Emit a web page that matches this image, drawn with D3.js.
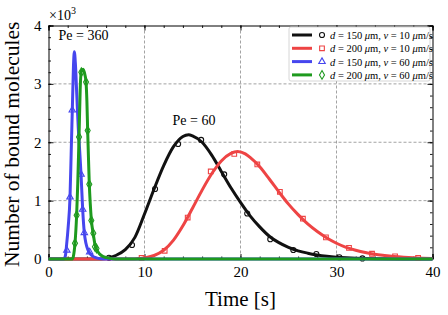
<!DOCTYPE html>
<html>
<head>
<meta charset="utf-8">
<script src="https://cdnjs.cloudflare.com/ajax/libs/d3/7.8.5/d3.min.js"></script>
<style>
	body { margin: 0; background: #fff; }
	svg { display: block; font-family: 'Liberation Serif', 'DejaVu Serif', serif; }
	.axis path { stroke: #000; stroke-width: 1; }
	.axis line { stroke: #000; stroke-width: 0.9; }
	.axis text { font-size: 15px; fill: #000; font-family: 'Liberation Serif', serif; }
	.grid line { stroke: #999; stroke-width: 0.9; stroke-dasharray: 3,2; }
</style>
</head>
<body>
<div id="chart"></div>
<script>
// values in units of 10^3 molecules, time in seconds
var black = [[0,0],[5,0],[6,0.01],[7,0.06],[8,0.16],[9,0.37],[10,0.77],[11,1.2],[12,1.6],[13,1.92],[14,2.1],[14.6,2.13],[15,2.11],[16,2.0],[17,1.78],[18,1.5],[19,1.22],[20,0.97],[21,0.74],[22,0.55],[23,0.39],[24,0.28],[25,0.2],[26,0.14],[27,0.1],[28,0.07],[29,0.048],[30,0.032],[31,0.021],[32,0.013],[34,0.005],[37,0.001],[40,0]];
var blackPts = [[6.3,0.02],[8.7,0.24],[11.1,1.2],[13.5,1.97],[15.9,2.04],[18.3,1.45],[20.7,0.78],[23.1,0.34],[25.5,0.155],[27.9,0.085],[30.3,0.03],[32.7,0.01]];

var red = [[0,0],[9,0],[10,0.02],[11,0.06],[12,0.15],[13,0.32],[14,0.57],[15,0.87],[16,1.18],[17,1.46],[18,1.68],[19,1.81],[19.7,1.84],[20.5,1.8],[21,1.74],[22,1.58],[23,1.37],[24,1.15],[25,0.94],[26,0.76],[27,0.6],[28,0.47],[29,0.36],[30,0.27],[31,0.2],[32,0.15],[33,0.11],[34,0.08],[35,0.06],[36,0.043],[37,0.03],[38,0.02],[39,0.013],[40,0.008]];
var redPts = [[9.7,0.02],[12.1,0.14],[14.5,0.71],[16.9,1.5],[19.35,1.8],[21.75,1.62],[24.1,1.15],[26.5,0.69],[28.9,0.37],[31.3,0.19],[33.7,0.09],[36.1,0.045],[38.5,0.02]];

var blue = [[0,0],[1.6,0],[1.75,0.05],[1.89,0.25],[2.05,0.55],[2.24,1.06],[2.36,1.8],[2.48,2.55],[2.6,3.3],[2.69,3.55],[2.8,3.35],[2.95,2.8],[3.1,2.25],[3.25,1.85],[3.39,1.45],[3.56,0.85],[3.73,0.45],[3.9,0.27],[4.1,0.16],[4.3,0.1],[4.6,0.05],[5,0.02],[5.5,0.005],[6,0],[40,0]];
var bluePts = [[1.91,0.15],[2.24,1.06],[2.48,2.55],[3.39,1.45],[3.56,0.85],[3.73,0.45],[4.29,0.12]];

var green = [[0,0],[2.5,0],[2.6,0.05],[2.76,0.27],[2.93,0.75],[3.05,1.3],[3.18,2.09],[3.3,2.9],[3.42,3.22],[3.6,3.25],[3.8,3.15],[3.91,3.03],[4.0,2.7],[4.08,2.2],[4.17,1.7],[4.25,1.28],[4.35,0.95],[4.46,0.68],[4.67,0.42],[4.84,0.25],[5.0,0.17],[5.3,0.09],[5.7,0.04],[6.3,0.015],[7,0],[40,0]];
var greenPts = [[2.76,0.27],[2.93,0.75],[3.18,2.09],[3.42,3.2],[3.91,3.03],[4.08,2.2],[4.25,1.28],[4.46,0.66],[4.67,0.44],[4.84,0.21],[5.0,0.18]];

var xTicks = [0, 10, 20, 30, 40];
var yTicks = [0, 1, 2, 3, 4];
var labels = [
	['150', '10'],
	['200', '10'],
	['150', '60'],
	['200', '60']
];

var width = 448, height = 315;
var margin = { top: 25.5, right: 15.5, bottom: 56, left: 48.5 };
var w = width - margin.left - margin.right;
var h = height - margin.top - margin.bottom;

var series = [
	{ line: black, pts: blackPts, color: '#111111', shape: 'circle' },
	{ line: red, pts: redPts, color: '#ee4444', shape: 'square' },
	{ line: blue, pts: bluePts, color: '#4646ee', shape: 'triangle' },
	{ line: green, pts: greenPts, color: '#1e9a1e', shape: 'diamond' }
];

var svg = d3.select('#chart').append('svg')
	.attr('width', width)
	.attr('height', height);

var g = svg.append('g')
	.attr('transform', 'translate(' + margin.left + ',' + margin.top + ')');

var x = d3.scaleLinear().domain([0, 40]).range([0, w]);
var y = d3.scaleLinear().domain([0, 4]).range([h, 0]);

// grid
g.append('g').attr('class', 'grid')
	.selectAll('line').data(xTicks.slice(1, -1)).enter().append('line')
	.attr('x1', function(d) { return x(d); }).attr('x2', function(d) { return x(d); })
	.attr('y1', 0).attr('y2', h);
g.append('g').attr('class', 'grid')
	.selectAll('line').data(yTicks.slice(1, -1)).enter().append('line')
	.attr('y1', function(d) { return y(d); }).attr('y2', function(d) { return y(d); })
	.attr('x1', 0).attr('x2', w);

// minor ticks
var xMinor = d3.range(0, 41, 2);
var yMinor = d3.range(0, 4.01, 0.2);

function axisSet(axisFn, scale, ticks, minor, transform, labelled) {
	var major = axisFn(scale).tickValues(ticks).tickSize(-5).tickPadding(7)
		.tickFormat(labelled ? d3.format('d') : '');
	var gMaj = g.append('g').attr('class', 'axis').attr('transform', transform).call(major);
	var gMin = g.append('g').attr('class', 'axis').attr('transform', transform)
		.call(axisFn(scale).tickValues(minor).tickSize(-2.5).tickFormat(''));
	gMin.select('.domain').remove();
	return gMaj;
}

axisSet(d3.axisBottom, x, xTicks, xMinor, 'translate(0,' + h + ')', true);
axisSet(d3.axisTop, x, xTicks, xMinor, 'translate(0,0)', false);
axisSet(d3.axisLeft, y, yTicks, yMinor, 'translate(0,0)', true);
axisSet(d3.axisRight, y, yTicks, yMinor, 'translate(' + w + ',0)', false);

// curves
var line = d3.line()
	.x(function(d) { return x(d[0]); })
	.y(function(d) { return y(d[1]); })
	.curve(d3.curveMonotoneX);

var symbols = {
	circle: d3.symbol().type(d3.symbolCircle).size(20),
	square: d3.symbol().type(d3.symbolSquare).size(22),
	triangle: d3.symbol().type(d3.symbolTriangle).size(18),
	diamond: d3.symbol().type(d3.symbolDiamond).size(22)
};

series.forEach(function(s) {
	g.append('path')
		.datum(s.line)
		.attr('fill', 'none')
		.attr('stroke', s.color)
		.attr('stroke-width', 3)
		.attr('stroke-linejoin', 'round')
		.attr('d', line);

	g.append('g').selectAll('path').data(s.pts).enter().append('path')
		.attr('transform', function(d) { return 'translate(' + x(d[0]) + ',' + y(d[1]) + ')'; })
		.attr('d', symbols[s.shape])
		.attr('fill', 'none')
		.attr('stroke', s.color)
		.attr('stroke-width', 1.1);
});

// annotations
g.append('text')
	.attr('x', 10).attr('y', 14)
	.style('font-size', '14px')
	.text('Pe = 360');

g.append('text')
	.attr('x', 124).attr('y', 99)
	.style('font-size', '14px')
	.text('Pe = 60');

var exp = svg.append('text')
	.attr('x', 49).attr('y', 20)
	.style('font-size', '14px')
	.text('×10');
exp.append('tspan').attr('dy', -6).style('font-size', '10px').text('3');

// axis labels
svg.append('text')
	.attr('x', margin.left + w / 2).attr('y', 306)
	.attr('text-anchor', 'middle')
	.style('font-size', '21px')
	.text('Time [s]');

svg.append('text')
	.attr('transform', 'translate(19,' + (margin.top + h / 2 + 2) + ') rotate(-90)')
	.attr('text-anchor', 'middle')
	.style('font-size', '21.5px')
	.text('Number of bound molecules');

// legend
var lx = 289, ly = 27, rowH = 13.3;
svg.append('rect')
	.attr('x', lx).attr('y', ly)
	.attr('width', 141).attr('height', 54)
	.attr('rx', 2)
	.attr('fill', '#fff')
	.attr('stroke', '#cccccc')
	.attr('stroke-width', 0.8);

series.forEach(function(s, i) {
	var cy = ly + 8 + i * rowH;
	svg.append('line')
		.attr('x1', lx + 3).attr('x2', lx + 23)
		.attr('y1', cy).attr('y2', cy)
		.attr('stroke', s.color).attr('stroke-width', 3);
	svg.append('path')
		.attr('transform', 'translate(' + (lx + 33) + ',' + cy + ')')
		.attr('d', symbols[s.shape])
		.attr('fill', 'none')
		.attr('stroke', s.color)
		.attr('stroke-width', 1.1);

	var t = svg.append('text')
		.attr('x', lx + 41).attr('y', cy + 4)
		.style('font-size', '10.5px');
	t.append('tspan').style('font-style', 'italic').text('d');
	t.append('tspan').text(' = ' + labels[i][0] + ' ');
	t.append('tspan').style('font-style', 'italic').text('μ');
	t.append('tspan').text('m, ');
	t.append('tspan').style('font-style', 'italic').text('v');
	t.append('tspan').text(' = ' + labels[i][1] + ' ');
	t.append('tspan').style('font-style', 'italic').text('μ');
	t.append('tspan').text('m/s');
});
</script>
</body>
</html>
